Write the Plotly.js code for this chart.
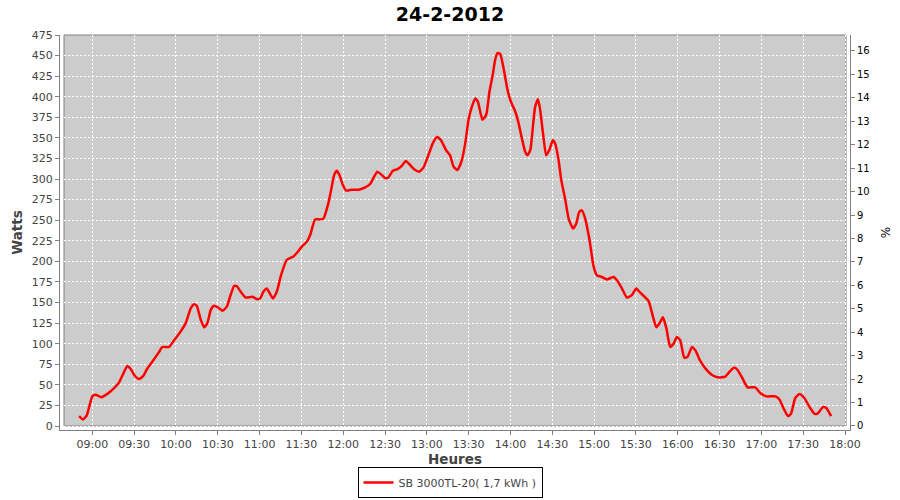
<!DOCTYPE html>
<html>
<head>
<meta charset="utf-8">
<script src="https://cdn.plot.ly/plotly-3.0.1.min.js"></script>
<style>html,body{margin:0;padding:0;background:#fff;}#chart{width:900px;height:500px;}</style>
</head>
<body>
<div id="chart"></div>
<script>
const chartDate = "2012-02-24";
const chartTitle = "24-2-2012";
const seriesName = "SB 3000TL-20( 1,7 kWh )";
const times = [
"08:50:30","08:53:20","08:56:00","09:00:00","09:02:24","09:06:30","09:10:48","09:15:36","09:19:12","09:22:18",
"09:25:06","09:27:36","09:30:24","09:33:30","09:36:36","09:39:30","09:44:18","09:47:54","09:50:12","09:55:00",
"09:58:36","10:03:24","10:07:00","10:10:36","10:13:00","10:14:54","10:17:48","10:20:12","10:22:30","10:25:00",
"10:27:18","10:30:12","10:33:18","10:36:30","10:38:48","10:41:42","10:43:36","10:46:30","10:50:06","10:54:48",
"10:58:24","11:00:24","11:02:42","11:05:12","11:09:30","11:12:18","11:15:12","11:19:30","11:24:18","11:27:06",
"11:30:18","11:33:54","11:36:18","11:39:48","11:42:54","11:45:48","11:49:24","11:51:48","11:53:30","11:55:24",
"11:57:18","11:59:42","12:02:06","12:06:12","12:10:54","12:15:42","12:19:18","12:22:12","12:24:30","12:27:00",
"12:30:06","12:32:24","12:35:36","12:38:54","12:42:00","12:44:54","12:47:30","12:50:54","12:54:30","12:57:36",
"13:00:00","13:02:24","13:04:24","13:07:18","13:10:12","13:13:48","13:16:36","13:19:12","13:22:00","13:25:06",
"13:27:30","13:29:54","13:32:18","13:34:42","13:36:36","13:39:54","13:42:36","13:44:54","13:47:24","13:49:00",
"13:50:42","13:52:36","13:55:00","13:57:54","14:00:18","14:03:24","14:05:48","14:08:12","14:10:36","14:12:12",
"14:14:12","14:16:06","14:17:42","14:19:42","14:21:18","14:23:18","14:25:36","14:27:48","14:30:24","14:32:06",
"14:34:30","14:36:24","14:39:18","14:41:42","14:44:54","14:47:12","14:49:18","14:51:12","14:53:36","14:56:42",
"14:59:36","15:02:00","15:05:36","15:09:12","15:13:54","15:16:24","15:20:00","15:23:36","15:27:06","15:30:12",
"15:33:06","15:39:00","15:42:12","15:44:36","15:47:00","15:49:24","15:51:48","15:54:36","15:57:00","15:59:24",
"16:01:48","16:04:42","16:07:00","16:10:12","16:12:36","16:16:12","16:19:48","16:24:36","16:29:18","16:34:06",
"16:37:12","16:40:36","16:42:54","16:46:06","16:50:06","16:55:36","16:59:12","17:03:30","17:10:00","17:13:06",
"17:16:00","17:19:06","17:21:18","17:24:18","17:27:24","17:30:48","17:34:36","17:38:00","17:40:18","17:44:12",
"17:46:36","17:50:00"
];
const watts = [
12,8,13,36,38,35,39,46,53,64,
73,69,61,57,61,70,81,90,96,96,
104,115,125,143,148,146,129,120,125,141,
146,144,140,145,157,170,170,163,156,157,
154,155,163,167,155,163,182,202,206,211,
218,224,232,251,251,252,271,291,305,310,
305,293,286,287,287,290,294,303,309,306,
301,302,310,312,316,322,318,312,309,314,
324,335,344,351,347,335,329,315,311,323,
343,372,388,398,394,372,378,406,428,445,
453,452,435,408,394,382,368,349,333,329,
335,364,388,397,384,356,329,335,347,343,
323,299,275,252,240,246,260,262,252,226,
194,183,181,178,181,177,167,156,159,167,
162,152,133,120,125,132,119,96,100,108,
104,83,84,96,92,79,70,62,59,60,
66,71,68,59,47,47,40,36,36,32,
21,12,15,34,39,34,23,15,15,23,
22,12
];
const xRange = ["08:36:48", "18:03:35"];
const wattsRange = [-4.86, 475];
const pctRange = [-0.171, 16.68];

const xs = times.map(t => chartDate + " " + t);
const tickFont = {family: "DejaVu Sans, sans-serif", size: 11, color: "#444"};
const gridDash = "2px,2px";

const traces = [
  {x: xs, y: watts, type: "scatter", mode: "lines", name: seriesName,
   line: {color: "#ff0000", width: 2.5, shape: "spline", smoothing: 0.5}, hoverinfo: "skip"},
  {x: [xs[0]], y: [null], type: "scatter", mode: "lines", yaxis: "y2", showlegend: false, hoverinfo: "skip"}
];

const layout = {
  width: 900, height: 500,
  margin: {l: 60, r: 50, t: 35, b: 70, autoexpand: false},
  paper_bgcolor: "#ffffff", plot_bgcolor: "#ffffff",
  showlegend: true,
  title: {text: "<b>" + chartTitle + "</b>", x: 0.5, xref: "container", xanchor: "center",
          y: 1 - 14/500, yref: "container", yanchor: "middle",
          font: {family: "DejaVu Sans, sans-serif", size: 19, color: "#000"}},
  xaxis: {type: "date", range: xRange.map(t => chartDate + " " + t),
          tickformat: "%H:%M", dtick: 30*60*1000, tick0: chartDate + " 09:00:00",
          showgrid: true, gridcolor: "#ffffff", griddash: gridDash, gridwidth: 1,
          showline: true, linecolor: "#808080", linewidth: 1, zeroline: false,
          ticks: "outside", ticklen: 4, tickcolor: "#808080", tickfont: tickFont,
          title: {text: "<b>Heures</b>", standoff: 6, font: {family: "DejaVu Sans, sans-serif", size: 13.5, color: "#444"}},
          automargin: false, fixedrange: true},
  yaxis: {range: wattsRange, dtick: 25, tick0: 0,
          showgrid: true, gridcolor: "#ffffff", griddash: gridDash, gridwidth: 1,
          showline: true, linecolor: "#808080", linewidth: 1, zeroline: false,
          ticks: "outside", ticklen: 4, tickcolor: "#808080", tickfont: tickFont,
          title: {text: "<b>Watts</b>", standoff: 6, font: {family: "DejaVu Sans, sans-serif", size: 13.5, color: "#444"}},
          automargin: false, fixedrange: true},
  yaxis2: {overlaying: "y", side: "right", range: pctRange, dtick: 1, tick0: 0,
          showgrid: false, zeroline: false,
          showline: true, linecolor: "#808080", linewidth: 1,
          ticks: "outside", ticklen: 4, tickcolor: "#808080",
          tickfont: {family: "DejaVu Sans, sans-serif", size: 10, color: "#000"},
          title: {text: "%", standoff: 12, font: {family: "DejaVu Sans, sans-serif", size: 12, color: "#000"}},
          automargin: false, fixedrange: true},
  shapes: [
    {type: "rect", xref: "paper", yref: "paper", layer: "below",
     x0: 4/790, x1: 1 - 4/790, y0: 4/395, y1: 1,
     fillcolor: "#cccccc", line: {color: "#808080", width: 1}}
  ],
  legend: {orientation: "h", x: 0.5, xref: "container", xanchor: "center",
           y: 2/500, yref: "container", yanchor: "bottom",
           bordercolor: "#000000", borderwidth: 1, bgcolor: "#ffffff",
           font: {family: "DejaVu Sans, sans-serif", size: 11, color: "#444"}}
};

Plotly.newPlot("chart", traces, layout, {staticPlot: true, displayModeBar: false});
</script>
</body>
</html>
